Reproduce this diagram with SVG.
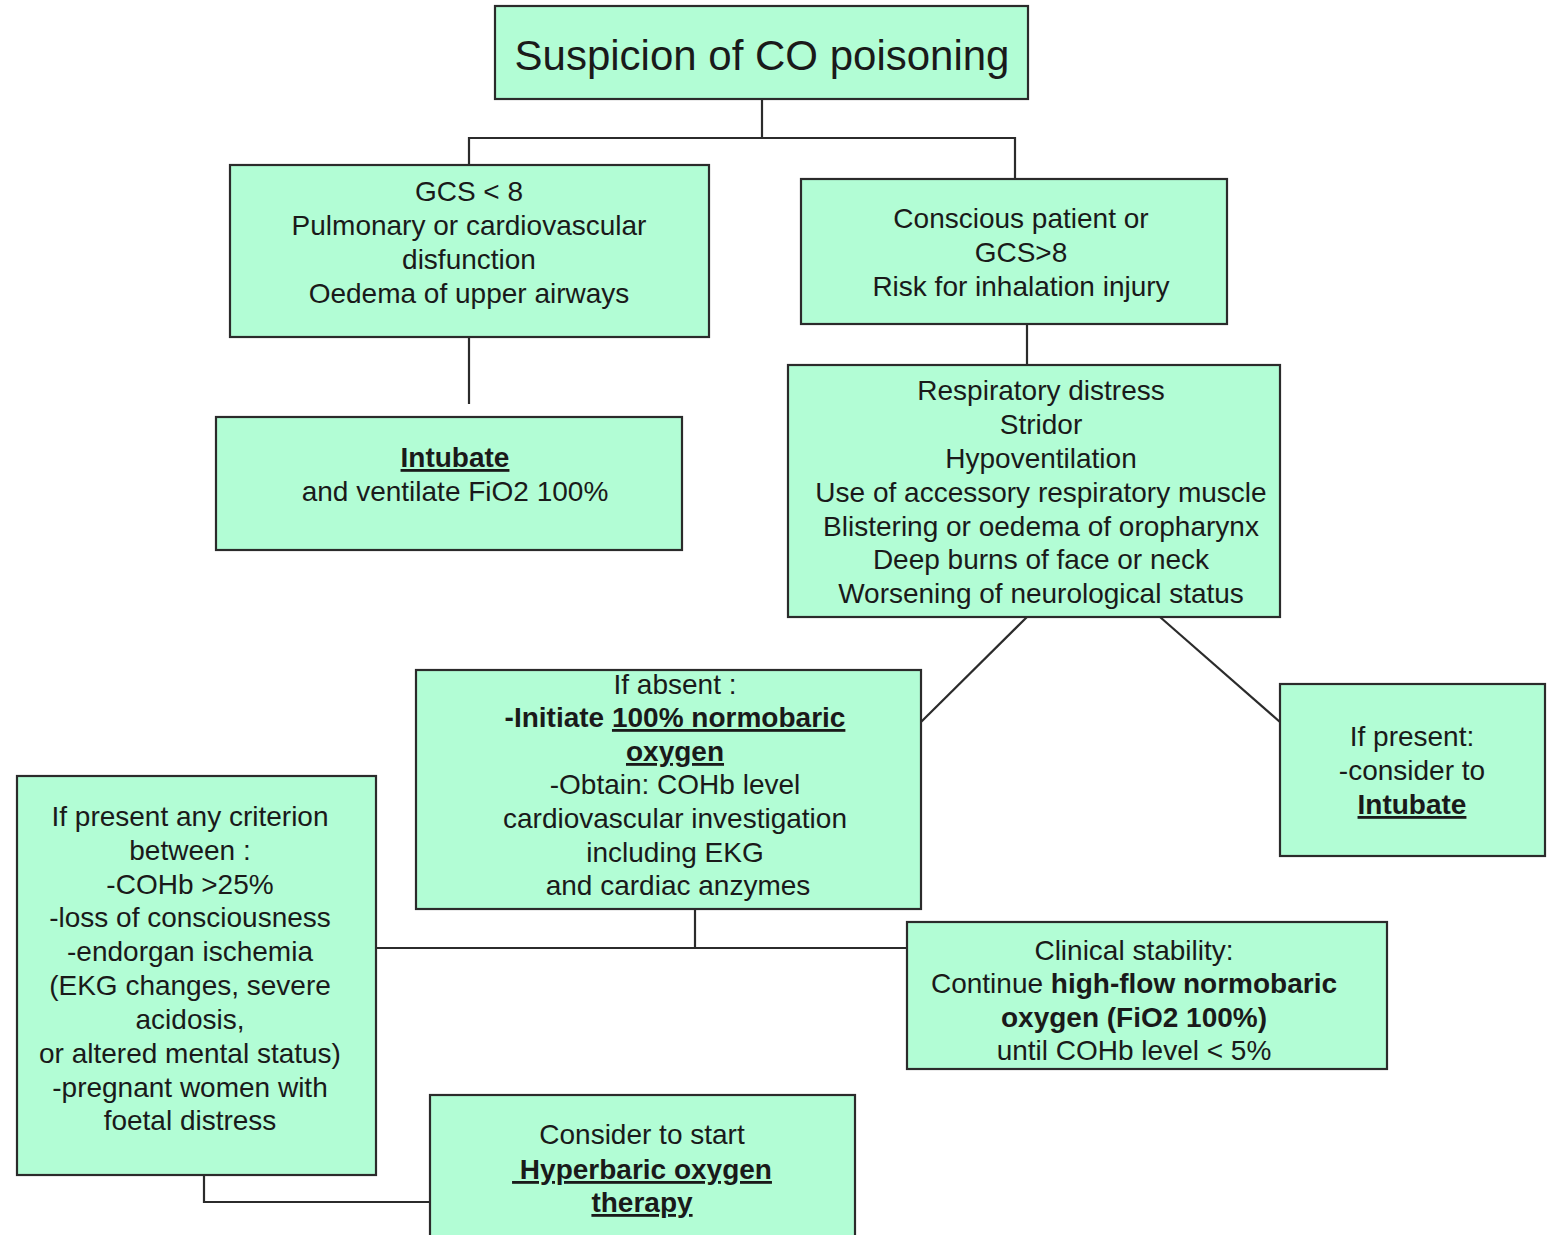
<svg xmlns="http://www.w3.org/2000/svg" width="1555" height="1235" viewBox="0 0 1555 1235">
<style>
.box{fill:#b2fdd5;stroke:#2b2b2b;stroke-width:2.2}
.t{font-family:"Liberation Sans",Arial,sans-serif;font-size:28px;fill:#1a1a1a;text-anchor:middle}
.b{font-weight:bold}
.u{text-decoration:underline}
.c{fill:none;stroke:#2b2b2b;stroke-width:2.2}
</style>
<rect width="1555" height="1235" fill="#ffffff"/>
<g id="connectors">
<polyline class="c" points="762,99 762,138"/>
<polyline class="c" points="469,165 469,138 1015,138 1015,179"/>
<polyline class="c" points="469,337 469,404"/>
<polyline class="c" points="1027,324 1027,365"/>
<polyline class="c" points="1027,617 921,722"/>
<polyline class="c" points="1160,617 1280,722"/>
<polyline class="c" points="695,909 695,948"/>
<polyline class="c" points="376,948 907,948"/>
<polyline class="c" points="204,1175 204,1202 430,1202"/>
</g>
<g id="n-start">
<rect class="box" x="495" y="6" width="533" height="93"/>
<text class="t" x="762" y="70" style="font-size:42px">Suspicion of CO poisoning</text>
</g>
<g id="n-gcs-low">
<rect class="box" x="230" y="165" width="479" height="172"/>
<text class="t" x="469" y="201">GCS &lt; 8</text>
<text class="t" x="469" y="235">Pulmonary or cardiovascular</text>
<text class="t" x="469" y="269">disfunction</text>
<text class="t" x="469" y="303">Oedema of upper airways</text>
</g>
<g id="n-intubate">
<rect class="box" x="216" y="417" width="466" height="133"/>
<text class="t b u" x="455" y="467">Intubate</text>
<text class="t" x="455" y="501">and ventilate FiO2 100%</text>
</g>
<g id="n-conscious">
<rect class="box" x="801" y="179" width="426" height="145"/>
<text class="t" x="1021" y="228">Conscious patient or</text>
<text class="t" x="1021" y="262">GCS&gt;8</text>
<text class="t" x="1021" y="296">Risk for inhalation injury</text>
</g>
<g id="n-signs">
<rect class="box" x="788" y="365" width="492" height="252"/>
<text class="t" x="1041" y="400">Respiratory distress</text>
<text class="t" x="1041" y="434">Stridor</text>
<text class="t" x="1041" y="468">Hypoventilation</text>
<text class="t" x="1041" y="502">Use of accessory respiratory muscle</text>
<text class="t" x="1041" y="536">Blistering or oedema of oropharynx</text>
<text class="t" x="1041" y="569">Deep burns of face or neck</text>
<text class="t" x="1041" y="603">Worsening of neurological status</text>
</g>
<g id="n-absent">
<rect class="box" x="416" y="670" width="505" height="239"/>
<text class="t" x="675" y="694">If absent :</text>
<text class="t b" x="675" y="727">-Initiate <tspan class="u">100% normobaric</tspan></text>
<text class="t b u" x="675" y="761">oxygen</text>
<text class="t" x="675" y="794">-Obtain: COHb level</text>
<text class="t" x="675" y="828">cardiovascular investigation</text>
<text class="t" x="675" y="862">including EKG</text>
<text class="t" x="678" y="895">and cardiac anzymes</text>
</g>
<g id="n-present">
<rect class="box" x="1280" y="684" width="265" height="172"/>
<text class="t" x="1412" y="746">If present:</text>
<text class="t" x="1412" y="780">-consider to</text>
<text class="t b u" x="1412" y="814">Intubate</text>
</g>
<g id="n-criteria">
<rect class="box" x="17" y="776" width="359" height="399"/>
<text class="t" x="190" y="826">If present any criterion</text>
<text class="t" x="190" y="860">between :</text>
<text class="t" x="190" y="894">-COHb &gt;25%</text>
<text class="t" x="190" y="927">-loss of consciousness</text>
<text class="t" x="190" y="961">-endorgan ischemia</text>
<text class="t" x="190" y="995">(EKG changes, severe</text>
<text class="t" x="190" y="1029">acidosis,</text>
<text class="t" x="190" y="1063">or altered mental status)</text>
<text class="t" x="190" y="1097">-pregnant women with</text>
<text class="t" x="190" y="1130">foetal distress</text>
</g>
<g id="n-stability">
<rect class="box" x="907" y="922" width="480" height="147"/>
<text class="t" x="1134" y="960">Clinical stability:</text>
<text class="t" x="1134" y="993">Continue <tspan class="b">high-flow normobaric</tspan></text>
<text class="t b" x="1134" y="1027">oxygen (FiO2 100%)</text>
<text class="t" x="1134" y="1060">until COHb level &lt; 5%</text>
</g>
<g id="n-hyperbaric">
<rect class="box" x="430" y="1095" width="425" height="150"/>
<text class="t" x="642" y="1144">Consider to start</text>
<text class="t b u" x="642" y="1179" xml:space="preserve"> Hyperbaric oxygen</text>
<text class="t b u" x="642" y="1212">therapy</text>
</g>
</svg>
